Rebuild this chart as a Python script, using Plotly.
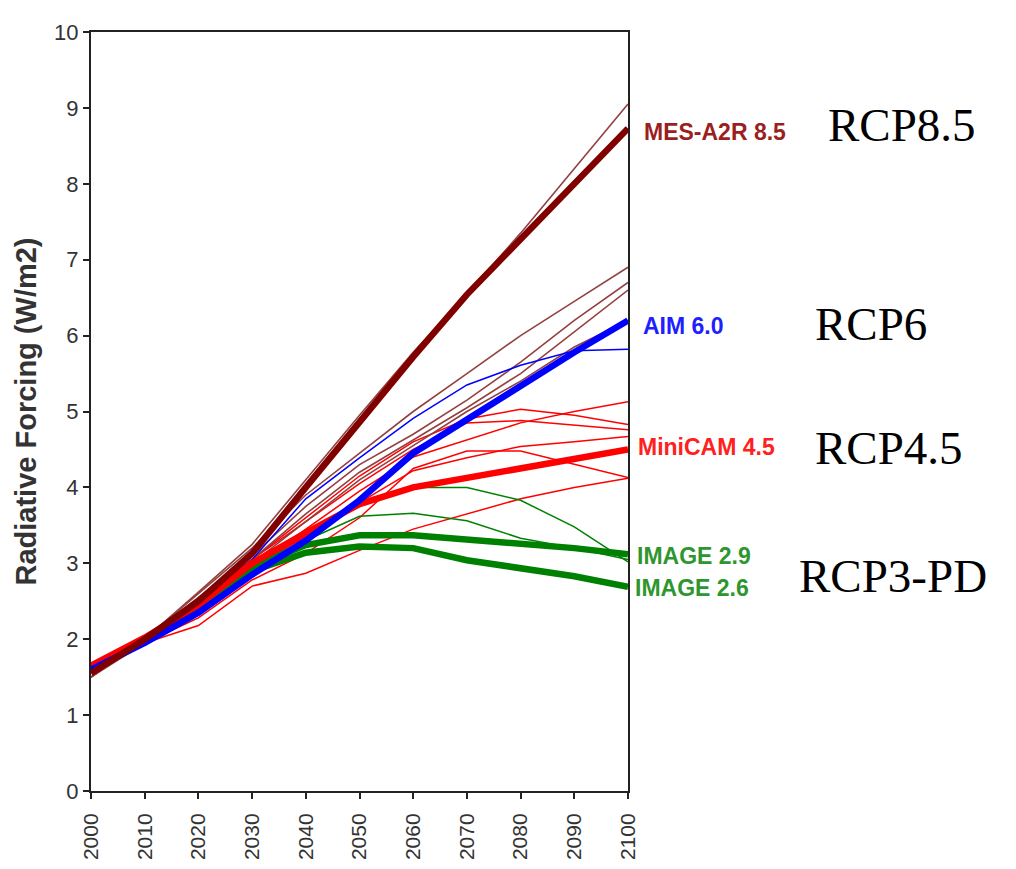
import plotly.graph_objects as go

years = [2000, 2010, 2020, 2030, 2040, 2050, 2060, 2070, 2080, 2090, 2100]

# Thick (selected RCP) pathways
mes_a2r_85 = [1.55, 2.0, 2.5, 3.13, 4.0, 4.87, 5.72, 6.54, 7.28, 8.02, 8.73]
aim_60 = [1.6, 1.95, 2.35, 2.85, 3.3, 3.83, 4.45, 4.9, 5.35, 5.78, 6.2]
minicam_45 = [1.65, 2.02, 2.45, 3.0, 3.4, 3.78, 4.0, 4.13, 4.26, 4.39, 4.5]
image_29 = [1.6, 2.0, 2.45, 2.95, 3.24, 3.37, 3.37, 3.32, 3.26, 3.2, 3.12]
image_26 = [1.6, 2.0, 2.42, 2.9, 3.14, 3.22, 3.2, 3.04, 2.94, 2.83, 2.69]

# Thin pathways (other scenarios)
maroon_thin = [
    [1.5, 2.0, 2.62, 3.25, 4.1, 4.95, 5.78, 6.55, 7.35, 8.2, 9.05],
    [1.5, 2.0, 2.6, 3.2, 3.9, 4.45, 5.0, 5.5, 6.0, 6.45, 6.9],
    [1.5, 2.0, 2.55, 3.1, 3.75, 4.3, 4.7, 5.15, 5.65, 6.2, 6.7],
    [1.5, 2.0, 2.5, 3.05, 3.65, 4.2, 4.62, 5.05, 5.5, 6.05, 6.6],
    [1.5, 1.95, 2.45, 3.0, 3.55, 4.1, 4.55, 5.0, 5.4, 5.85, 6.2],
]
blue_thin = [
    [1.6, 1.95, 2.4, 3.05, 3.85, 4.39, 4.91, 5.35, 5.61, 5.8, 5.82],
]
red_thin = [
    [1.6, 2.0, 2.5, 3.05, 3.6, 4.15, 4.6, 4.9, 5.03, 4.95, 4.83],
    [1.6, 2.0, 2.5, 3.05, 3.55, 4.05, 4.5, 4.85, 4.88, 4.82, 4.76],
    [1.6, 2.0, 2.45, 2.95, 3.45, 3.95, 4.4, 4.62, 4.85, 5.0, 5.13],
    [1.6, 2.0, 2.45, 2.95, 3.35, 3.8, 4.22, 4.39, 4.54, 4.6, 4.67],
    [1.6, 1.95, 2.28, 2.78, 3.13, 3.6, 4.25, 4.48, 4.48, 4.3, 4.13],
    [1.6, 1.95, 2.18, 2.7, 2.87, 3.17, 3.45, 3.65, 3.85, 4.0, 4.12],
]
green_thin = [
    [1.6, 2.0, 2.45, 3.0, 3.4, 3.78, 4.0, 4.0, 3.83, 3.48, 3.02],
    [1.6, 2.0, 2.45, 2.98, 3.3, 3.62, 3.66, 3.56, 3.33, 3.2, 3.05],
]

scenario_labels = ["MES-A2R 8.5", "AIM 6.0", "MiniCAM 4.5", "IMAGE 2.9", "IMAGE 2.6"]
scenario_label_y = [8.68, 6.13, 4.53, 3.1, 2.67]
rcp_labels = ["RCP8.5", "RCP6", "RCP4.5", "RCP3-PD"]
rcp_label_y = [8.78, 6.15, 4.52, 2.83]

MAROON = "#800000"
BLUE = "#0000ff"
RED = "#ff0000"
GREEN = "#008000"

fig = go.Figure()

def add_line(vals, color, width):
    fig.add_trace(go.Scatter(x=years, y=vals, mode="lines",
                             line=dict(color=color, width=width),
                             showlegend=False, hoverinfo="skip"))

for v in red_thin:
    add_line(v, RED, 1.5)
for v in green_thin:
    add_line(v, GREEN, 1.5)
for v in maroon_thin:
    add_line(v, "#934040", 1.6)
for v in blue_thin:
    add_line(v, BLUE, 1.5)

add_line(image_26, GREEN, 6.5)
add_line(image_29, GREEN, 6.5)
add_line(minicam_45, RED, 6.5)
add_line(aim_60, BLUE, 6.5)
add_line(mes_a2r_85, MAROON, 6.5)

label_colors = ["#9a1f1f", "#2020ff", "#ff2020", "#2e962e", "#2e962e"]
label_shift = [14, 13, 8, 7, 5]
for txt, yv, c, s in zip(scenario_labels, scenario_label_y, label_colors, label_shift):
    fig.add_annotation(x=1, xref="paper", y=yv, yref="y", text="<b>" + txt + "</b>",
                       showarrow=False, xanchor="left", yanchor="middle", xshift=s,
                       font=dict(family="Liberation Sans, Arial", size=23, color=c))

rcp_shift = [198, 185, 185, 169]
for txt, yv, s in zip(rcp_labels, rcp_label_y, rcp_shift):
    fig.add_annotation(x=1, xref="paper", y=yv, yref="y", text=txt,
                       showarrow=False, xanchor="left", yanchor="middle", xshift=s,
                       font=dict(family="Liberation Serif, Times New Roman", size=47, color="black"))

fig.update_layout(
    width=1016, height=869,
    margin=dict(l=83, r=396, t=16, b=86),
    paper_bgcolor="white", plot_bgcolor="white",
    font=dict(family="Liberation Sans, Arial", color="#222222"),
)
fig.update_xaxes(range=[2000, 2100], tickvals=years, ticktext=[str(y) for y in years],
                 tickangle=-90, tickfont=dict(size=21, color="#333333"),
                 ticklabelstandoff=6,
                 showline=True, linecolor="#222222", linewidth=2, mirror=True,
                 ticks="outside", ticklen=6, tickwidth=2, tickcolor="#222222",
                 showgrid=False, zeroline=False)
fig.update_yaxes(range=[0, 10], tickvals=list(range(0, 11)),
                 tickfont=dict(size=22, color="#333333"),
                 showline=True, linecolor="#222222", linewidth=2, mirror=True,
                 ticks="outside", ticklen=6, tickwidth=2, tickcolor="#222222",
                 showgrid=False, zeroline=False,
                 title=dict(text="<b>Radiative Forcing (W/m2)</b>", standoff=9,
                            font=dict(size=29, color="#333333")))

fig.write_html("out.html")
